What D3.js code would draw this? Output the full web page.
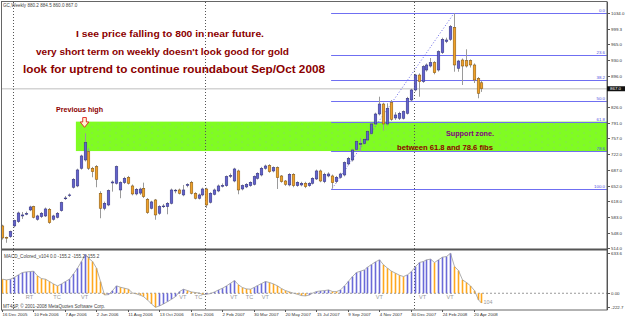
<!DOCTYPE html>
<html lang="en">
<head>
<meta charset="UTF-8">
<title>GC Weekly</title>
<script src="https://d3js.org/d3.v7.min.js"></script>
<style>
  body { margin: 0; background: #fff; }
  svg { display: block; }
  text { font-family: "Liberation Sans", Arial, sans-serif; }
  .axis path, .axis line { stroke: #555; shape-rendering: crispEdges; }
  .axis text { fill: #333; font-size: 4.4px; }
</style>
</head>
<body>
<script>
// weekly bars, first one is 16 Dec 2005
const opens = [563.3,538,539.6,563.3,572.8,585.4,590,598.7,606.0,578.1,583.8,585.4,600.2,578.1,582.5,597.1,624.1,630.8,648.9,651.8,
  691.0,709.3,727.7,691.0,694.5,635.6,602.4,609.7,658.4,657.8,642.9,659.1,671.0,651.8,634.1,636,646.7,622.4,602.4,620.8,
  591.4,606.5,606.0,613.5,641.5,642.9,631.9,652.9,660.0,635.6,624.6,631.9,645.1,615.7,633.4,640.7,651.8,652.4,673.9,662.8,
  685.0,645.1,649.6,652.4,655.5,668.8,676.1,691.0,696.7,685.0,692.3,673.9,662.8,654.0,677.7,652.4,654.0,657.8,652.4,657.8,
  667.3,685.0,661.3,673.9,673.9,661.3,671.0,676.1,700.5,709.3,733.0,743.6,746.3,753.6,768.4,789.0,811.1,833.2,789.0,836.1,
  802.3,801.6,801.6,812.7,842.1,864.3,897.4,882.6,908.5,917.3,924.6,908.5,946.8,971.6,976.4,1003.0,912.3,930.6,929.1,929.1,
  919.6,890.1,880.2];
const highs = [566,539.6,553,577,595,594.2,595,608,608,588,594,604,603,588,594,617,629.6,635.2,669,690,
  721,768.4,735,694,698,640,617,644,664,697,662,672,674,655,647,648,659.1,625,619,623,
  609,612,616,646,645.1,646,654,657.8,663,638,635,648,648,638,646,655,657.3,675,679.4,692,
  688,655,658,662,675,682,694,699,700,695,695,676,665,680,680,662,661,661,660,671,
  688,688,681,682,677,674,681,706,716,734,753,757.4,758,775,792,814,849.4,836,834.8,842.1,
  815,816,819,849,867,900,901,919,923,935,928,952,980,980,1008,1034.0,931,934,954.3,932,
  923,893,884.5];
const lows = [533,526,537,560,570,578.8,587,596,580,575,581,583,568,575,580,595,620.8,627.4,646,649,
  688,706,687.2,671.0,648.9,580.3,598,607,639.2,655,624.6,656,655,631,631,632,625,590,600,577,
  588,603,589.1,611,635.6,633,629,648.9,633,622,622,629,603.1,613,631,638,648.5,650,669.5,660,
  633.4,642,647,650,653,666,673,688,681,682,645.1,659,652,651,649,650,651,647,650,655,
  665,660,658,671,646.0,658,668,673,698,706,730,727.7,743,751,765,786,808,774.2,785,796,
  798,797.8,799,810,839,861,849.4,880,905,914,899,905,944,968,973,904.7,904.7,875.3,914,914,
  879.7,845.9,860.0];
const closes = [536.7,537,550.7,575.0,592.0,587.6,591,605.3,582.5,585.4,591.4,600.9,570.6,585.4,591.4,614.8,625.2,631.9,666.6,687.2,
  718.2,747.6,691.0,683.4,666.6,602.4,613.5,641.4,660.6,694.5,659.1,668.8,657.8,634.1,644.5,645,628.1,592.7,616.4,587.6,
  606.0,607.5,613.5,642.9,642.5,635.6,642.9,655.1,635.6,624.6,631.9,645.1,609.7,635.6,642.9,651.8,652.9,672.4,675.0,689.4,
  642.9,652.4,655.5,660.0,672.4,679.9,691.0,696.0,683.4,692.3,670.1,661.3,655.5,677.7,652.4,660.0,657.8,650.2,657.8,668.8,
  685.0,662.8,677.7,678.3,659.1,671.0,678.3,703.4,713.1,731.4,749.8,745.8,755.1,771.9,789.0,811.1,833.2,789.0,823.7,799.4,
  808.9,812.7,816.2,845.9,864.3,897.4,882.6,915.8,919.6,924.6,902.5,949.0,976.4,974.9,1004.3,919.6,928.4,917.3,917.3,919.6,
  886.4,857.0,867.0];

// MACD_Colored histogram, one value per bar
const macd = [223,212,223,254,292,329,339,345,350,276,233,223,186,148,117,148,186,223,307,398,
  504,620,557,504,398,186,-27,-21,42,117,95,80,64,5,-11,-32,-53,-106,-170,-222.7,
  -201,-170,-133,-95,-53,27,64,42,21,11,2,-21,-16,-5,21,53,80,117,159,201,
  133,90,69,64,95,122,154,186,170,148,117,74,42,21,1,-16,-37,-42,-27,2,
  27,37,42,53,27,26,53,117,191,265,329,350,371,413,456,498,530,451,398,350,
  318,286,265,292,345,424,488,504,530,541,488,530,572,583,633.6,424,360,212,170,117,
  42,-106,-155.2];

const dateBars = [0,8,16,24,32,40,48,56,64,72,80,88,96,104,112,120];
const dateLabels = ["16 Dec 2005","10 Feb 2006","7 Apr 2006","2 Jun 2006","11 Aug 2006","13 Oct 2006","8 Dec 2006",
  "2 Feb 2007","30 Mar 2007","20 May 2007","15 Jul 2007","9 Sep 2007","4 Nov 2007","30 Dec 2007","24 Feb 2008","20 Apr 2008"];
const yearSeparatorBars = [3, 52, 105];

// 861.0 sits under the last-price box, so it is left out
const priceTicks = [1034.0,999.3,965.0,930.0,896.0,826.0,791.0,757.0,722.0,687.0,652.0,618.0,583.0,548.0,514.0];
const macdTicks = [633.6, 0, -222.7];
const macdTickLabels = ["633.6", "0.00", "-222.7"];

const fibLevels = [0.0, 23.6, 38.2, 50.0, 61.8, 78.6, 100.0];
const fibHigh = 1034.0, fibLow = 646.0, fibFromBar = 84, fibToBar = 115;
const zoneFromBar = 18.8;   // support rectangle between 61.8 and 78.6
const lastPrice = 867.0;

const macdMarks = [["RT",7],["TC",14],["VT",21],["VT",46],["TC",50],["VT",59],["TC",63],["VT",67],["VT",96],["VT",107],["VT",114]];

const W = 625, H = 319;
const left = 2, right = 607, mainTop = 2, mainBottom = 249, subTop = 251, subBottom = 310;
const darkRed = "#8b0000";

const svg = d3.select("body").append("svg").attr("width", W).attr("height", H);

const x = d3.scaleLinear().domain([0, 122]).range([2, 2 + 122 * 3.93]);
const y = d3.scaleLinear().domain([514, 1034]).range([248.2, 13.3]);
const ym = d3.scaleLinear().domain([-222.7, 633.6]).range([307.3, 253.3]);

const defs = svg.append("defs");
const pat = defs.append("pattern").attr("id", "dots").attr("patternUnits", "userSpaceOnUse")
  .attr("width", 12).attr("height", 6);
pat.append("rect").attr("width", 12).attr("height", 6).attr("fill", "#80fc22");
pat.append("circle").attr("cx", 2).attr("cy", 4).attr("r", 0.45).attr("fill", "#8fa0e0");
pat.append("circle").attr("cx", 8).attr("cy", 1).attr("r", 0.45).attr("fill", "#8fa0e0");

// support zone (background)
const fibPrice = lv => fibHigh - (fibHigh - fibLow) * lv / 100;
svg.append("rect")
  .attr("x", x(zoneFromBar)).attr("y", y(fibPrice(61.8)))
  .attr("width", right - x(zoneFromBar)).attr("height", y(fibPrice(78.6)) - y(fibPrice(61.8)))
  .attr("fill", "url(#dots)");

// current price line
svg.append("line").attr("x1", left).attr("x2", right).attr("y1", y(lastPrice)).attr("y2", y(lastPrice))
  .attr("stroke", "#d4d4d4").attr("stroke-width", 1.5);

// year separators
svg.append("g").selectAll("line").data(yearSeparatorBars).join("line")
  .attr("x1", d => Math.round(x(d)) - 0.5).attr("x2", d => Math.round(x(d)) - 0.5)
  .attr("y1", mainTop).attr("y2", subBottom)
  .attr("stroke", "#555").attr("stroke-dasharray", "1,2");

// fibonacci
const fibG = svg.append("g");
fibG.selectAll("line").data(fibLevels).join("line")
  .attr("x1", x(fibFromBar) - 1).attr("x2", right)
  .attr("y1", d => Math.round(y(fibPrice(d))) + 0.5).attr("y2", d => Math.round(y(fibPrice(d))) + 0.5)
  .attr("stroke", "#6f6ff2").attr("stroke-width", 1);
fibG.selectAll("text").data(fibLevels).join("text")
  .attr("x", right - 2).attr("y", d => y(fibPrice(d)) - 1)
  .attr("text-anchor", "end").attr("font-size", 4.4).attr("fill", "#5050e0")
  .text(d => d.toFixed(1));
fibG.append("line")
  .attr("x1", x(fibFromBar)).attr("y1", y(fibLow))
  .attr("x2", x(fibToBar)).attr("y2", y(fibHigh))
  .attr("stroke", "#6a6ae8").attr("stroke-dasharray", "1,2");

// candles
const bars = closes.map((c, i) => ({ i, o: opens[i], h: highs[i], l: lows[i], c }));
const candles = svg.append("g");
candles.selectAll("line").data(bars).join("line")
  .attr("x1", d => Math.round(x(d.i)) + 0.5).attr("x2", d => Math.round(x(d.i)) + 0.5)
  .attr("y1", d => y(d.h)).attr("y2", d => y(d.l))
  .attr("stroke", "#9a9a9a").attr("stroke-width", 1);
candles.selectAll("rect").data(bars).join("rect")
  .attr("x", d => Math.round(x(d.i)) - 0.8)
  .attr("width", 2.6)
  .attr("y", d => y(Math.max(d.o, d.c)))
  .attr("height", d => Math.max(0.8, Math.abs(y(d.o) - y(d.c))))
  .attr("fill", d => d.c >= d.o ? "#6262cc" : "#f0a028")
  .attr("stroke", d => d.c >= d.o ? "#30307a" : "#7a5010")
  .attr("stroke-width", 0.5);

// MACD panel
svg.append("line").attr("x1", left).attr("x2", right).attr("y1", ym(0)).attr("y2", ym(0))
  .attr("stroke", "#999").attr("stroke-dasharray", "2,2");
svg.append("g").selectAll("line").data(macd).join("line")
  .attr("x1", (d, i) => Math.round(x(i)) + 0.5).attr("x2", (d, i) => Math.round(x(i)) + 0.5)
  .attr("y1", ym(0)).attr("y2", d => ym(d))
  .attr("stroke", (d, i) => i > 0 && d >= macd[i - 1] ? "#6a6ad8" : "#ffa81e")
  .attr("stroke-width", 1.6);
svg.append("path").datum(macd)
  .attr("d", d3.line().x((d, i) => Math.round(x(i)) + 0.5).y(d => ym(d)))
  .attr("fill", "none").attr("stroke", "#9a9a9a").attr("stroke-width", 0.8);
svg.append("g").selectAll("text").data(macdMarks).join("text")
  .attr("x", d => x(d[1])).attr("y", 299).attr("text-anchor", "middle")
  .attr("font-size", 5.6).attr("fill", "#9a9a9a").text(d => d[0]);
svg.append("text").attr("x", x(122) + 2).attr("y", 304).attr("font-size", 5.4).attr("fill", "#9a9a9a").text("104");

// frames
svg.append("rect").attr("x", 1.5).attr("y", 1.5).attr("width", right - 1.5).attr("height", subBottom - 1.5)
  .attr("fill", "none").attr("stroke", "#666");
svg.append("line").attr("x1", left).attr("x2", right).attr("y1", 249.5).attr("y2", 249.5)
  .attr("stroke", "#555").attr("stroke-width", 2);

// axes
svg.append("g").attr("class", "axis").attr("transform", `translate(${right},0)`)
  .call(d3.axisRight(y).tickValues(priceTicks).tickSize(3).tickPadding(1).tickFormat(d3.format(".1f")))
  .call(g => g.select(".domain").attr("d", `M0.5,${mainTop}V${subBottom}`));
svg.append("g").attr("class", "axis").attr("transform", `translate(${right},0)`)
  .call(d3.axisRight(ym).tickValues(macdTicks).tickSize(3).tickPadding(1).tickFormat((d, i) => macdTickLabels[i]))
  .call(g => g.select(".domain").remove());
svg.append("g").attr("class", "axis").attr("transform", `translate(0,${subBottom})`)
  .call(d3.axisBottom(x).tickValues(dateBars).tickSize(2).tickPadding(0.5).tickFormat((d, i) => dateLabels[i]))
  .call(g => g.select(".domain").remove())
  .call(g => g.selectAll("text").attr("text-anchor", "start"));

// last price box
svg.append("rect").attr("x", right).attr("y", y(lastPrice) - 2.5).attr("width", W - right).attr("height", 5)
  .attr("fill", "#111");
svg.append("text").attr("x", right + 3).attr("y", y(lastPrice) + 1.6).attr("font-size", 4.4).attr("fill", "#fff")
  .text(lastPrice.toFixed(1));

// header texts
svg.append("text").attr("x", 3).attr("y", 7).attr("font-size", 4.6).attr("fill", "#444")
  .text("GC,Weekly  880.2 884.5 860.0 867.0");
svg.append("text").attr("x", 4).attr("y", 257.5).attr("font-size", 4.6).attr("fill", "#444")
  .text("MACD_Colored_v104 0.0 -155.2 -155.2 -155.2");
svg.append("text").attr("x", 3).attr("y", 308.3).attr("font-size", 4.6).attr("fill", "#444")
  .text("MT4&P, © 2001-2008 MetaQuotes Software Corp.");

// annotations
const notes = [
  { t: "I see price falling to 800 in near future.", x: 76, w: 188, cy: 34, fs: 8.2, c: darkRed },
  { t: "very short term on weekly doesn't look good for gold", x: 36, w: 253, cy: 52, fs: 8.6, c: darkRed },
  { t: "look for uptrend to continue roundabout Sep/Oct 2008", x: 23, w: 302, cy: 69, fs: 10.6, c: darkRed },
  { t: "Previous high", x: 56, w: 47, cy: 109.3, fs: 7.2, c: darkRed },
  { t: "Support zone.", x: 446, w: 48, cy: 133.7, fs: 7.2, c: "#800080" },
  { t: "between 61.8 and 78.6 fibs", x: 397, w: 96, cy: 147.3, fs: 7.2, c: darkRed }
];
svg.append("g").selectAll("text").data(notes).join("text")
  .attr("x", d => d.x).attr("y", d => d.cy + d.fs * 0.36)
  .attr("font-size", d => d.fs).attr("font-weight", "bold").attr("fill", d => d.c)
  .attr("textLength", d => d.w).attr("lengthAdjust", "spacingAndGlyphs")
  .text(d => d.t);

// arrow over previous high
const ax = x(21);
svg.append("path")
  .attr("d", `M${ax - 1.8},117.5 H${ax + 1.8} V122 H${ax + 4.3} L${ax},127.3 L${ax - 4.3},122 H${ax - 1.8} Z`)
  .attr("fill", "#fff3d0").attr("stroke", "#e02020").attr("stroke-width", 0.9);
</script>
</body>
</html>
